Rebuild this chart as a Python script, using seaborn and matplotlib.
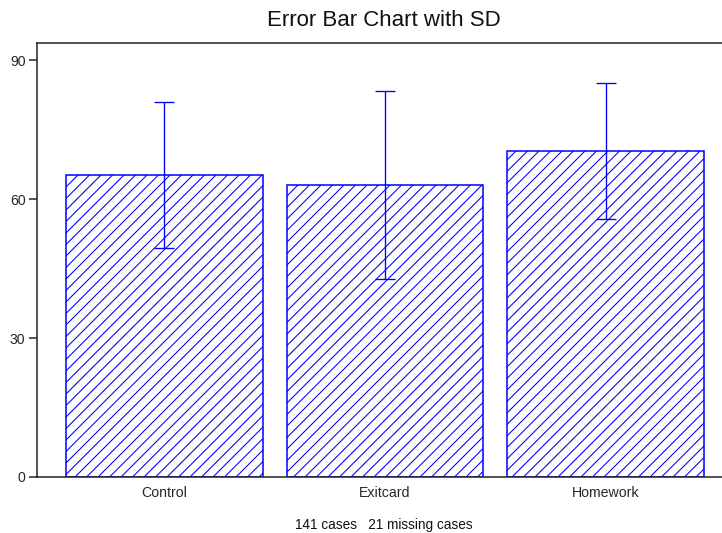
import matplotlib
matplotlib.use("Agg")
import matplotlib.pyplot as plt
import seaborn as sns
import pandas as pd

# values
groups = ["Control", "Exitcard", "Homework"]
means = [65.2, 63.0, 70.4]
sds = [15.8, 20.3, 14.6]
yticks = [0, 30, 60, 90]

df = pd.DataFrame({"group": groups, "mean": means})

sns.set_style("white")
plt.rcParams["font.family"] = ["Liberation Sans", "DejaVu Sans"]
plt.rcParams["hatch.linewidth"] = 0.55
plt.rcParams["hatch.color"] = "#0000ff"

dpi = 138
fig = plt.figure(figsize=(722 / dpi, 533 / dpi), dpi=dpi)
ax = fig.add_axes([37 / 722, 1 - 477 / 533, 1 - 37 / 722, (477 - 43) / 533])

sns.barplot(data=df, x="group", y="mean", errorbar=None, width=0.893,
            color="white", edgecolor="#0000ff", linewidth=0.8, ax=ax)
for p in ax.patches:
    p.set_hatch("////")
    p.set_facecolor("white")
    p.set_edgecolor("#0000ff")

ax.errorbar(range(len(groups)), means, yerr=sds, fmt="none",
            ecolor="#0000ff", elinewidth=0.7, capsize=5.2, capthick=0.7)

ax.set_xlim(-0.578, 2.528)
ax.set_ylim(0, 93.7)
ax.set_yticks(yticks)
ax.set_xlabel("")
ax.set_ylabel("")
ax.tick_params(axis="y", direction="out", length=4, width=0.8,
               labelsize=7.3, pad=2, left=True)
ax.tick_params(axis="x", length=0, labelsize=7.4, pad=4.5)

for s in ["left", "top", "bottom"]:
    ax.spines[s].set_color("#222222")
    ax.spines[s].set_linewidth(0.8)
ax.spines["right"].set_visible(False)

fig.text(384 / 722, 1 - 21 / 533, "Error Bar Chart with SD", ha="center",
         va="center", fontsize=11.6, color="#111111")
fig.text(384 / 722, 1 - 525 / 533, "141 cases   21 missing cases",
         ha="center", va="center", fontsize=7.1, color="#111111")

fig.savefig("out.png", dpi=dpi)
